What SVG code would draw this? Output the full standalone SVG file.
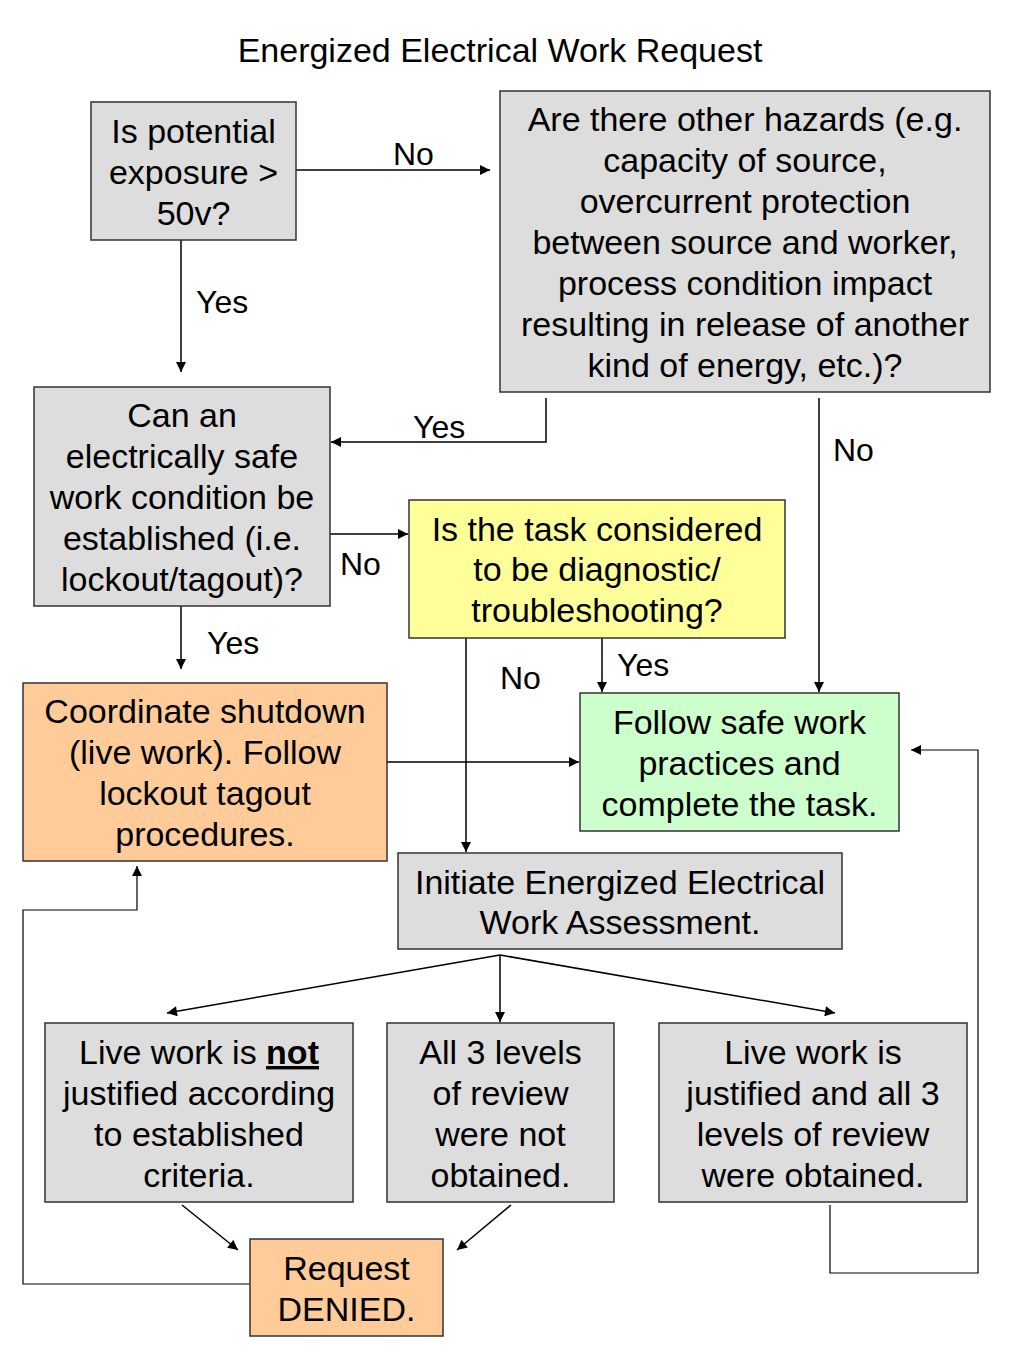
<svg xmlns="http://www.w3.org/2000/svg" width="1024" height="1365" viewBox="0 0 1024 1365">
<defs>
<style>
text{font-family:"Liberation Sans",Arial,sans-serif;fill:#000}
.t{font-size:34px;text-anchor:middle}
.lb{font-size:32px}
.box{stroke:#333;stroke-width:1.5}
.g{fill:#dddddd}.y{fill:#ffff99}.o{fill:#ffcc99}.gr{fill:#ccffcc}
.c{fill:none;stroke:#000;stroke-width:1.5}
.thin{fill:none;stroke:#000;stroke-width:1.2}
</style>
<marker id="ah" viewBox="0 0 10 10" refX="10" refY="5" markerWidth="11" markerHeight="10" markerUnits="userSpaceOnUse" orient="auto"><path d="M0,0 L10,5 L0,10 z" fill="#000"/></marker>
</defs>
<rect width="1024" height="1365" fill="#fff"/>
<text x="500" y="62" style="font-size:34px;text-anchor:middle">Energized Electrical Work Request</text>

<g id="connectors">
<line class="c" x1="296" y1="170" x2="490" y2="170" marker-end="url(#ah)"/>
<text class="lb" x="393" y="165">No</text>
<line class="c" x1="181" y1="240" x2="181" y2="372" marker-end="url(#ah)"/>
<text class="lb" x="196" y="313">Yes</text>
<polyline class="c" points="546,398 546,442 331,442" marker-end="url(#ah)"/>
<text class="lb" x="413" y="438">Yes</text>
<line class="c" x1="819" y1="398" x2="819" y2="692" marker-end="url(#ah)"/>
<text class="lb" x="833" y="461">No</text>
<line class="c" x1="330" y1="534" x2="408" y2="534" marker-end="url(#ah)"/>
<text class="lb" x="340" y="575">No</text>
<line class="c" x1="181" y1="606" x2="181" y2="669" marker-end="url(#ah)"/>
<text class="lb" x="207" y="654">Yes</text>
<line class="c" x1="466" y1="638" x2="466" y2="852" marker-end="url(#ah)"/>
<text class="lb" x="500" y="689">No</text>
<line class="c" x1="602" y1="638" x2="602" y2="692" marker-end="url(#ah)"/>
<text class="lb" x="617" y="676">Yes</text>
<line class="c" x1="387" y1="762" x2="579" y2="762" marker-end="url(#ah)"/>
<line class="c" x1="500" y1="955" x2="167" y2="1013" marker-end="url(#ah)"/>
<line class="c" x1="500" y1="955" x2="500" y2="1022" marker-end="url(#ah)"/>
<line class="c" x1="500" y1="955" x2="835" y2="1013" marker-end="url(#ah)"/>
<line class="c" x1="182" y1="1205" x2="238" y2="1250" marker-end="url(#ah)"/>
<line class="c" x1="511" y1="1205" x2="457" y2="1250" marker-end="url(#ah)"/>
<polyline class="thin" points="830,1205 830,1273 978,1273 978,750 911,750" marker-end="url(#ah)"/>
<polyline class="thin" points="250,1284 23,1284 23,910 137,910 137,866" marker-end="url(#ah)"/>
</g>

<g id="n1"><rect class="box g" x="91" y="102" width="205" height="138"/>
<text class="t" x="193.5" y="143">Is potential</text><text class="t" x="193.5" y="184">exposure &gt;</text><text class="t" x="193.5" y="225">50v?</text></g>

<g id="n2"><rect class="box g" x="500" y="91" width="490" height="301"/>
<text class="t" x="745" y="131">Are there other hazards (e.g.</text>
<text class="t" x="745" y="172">capacity of source,</text>
<text class="t" x="745" y="213">overcurrent protection</text>
<text class="t" x="745" y="254">between source and worker,</text>
<text class="t" x="745" y="295">process condition impact</text>
<text class="t" x="745" y="336">resulting in release of another</text>
<text class="t" x="745" y="377">kind of energy, etc.)?</text></g>

<g id="n3"><rect class="box g" x="34" y="387" width="296" height="219"/>
<text class="t" x="182" y="427">Can an</text>
<text class="t" x="182" y="468">electrically safe</text>
<text class="t" x="182" y="509">work condition be</text>
<text class="t" x="182" y="550">established (i.e.</text>
<text class="t" x="182" y="591">lockout/tagout)?</text></g>

<g id="n4"><rect class="box y" x="409" y="500" width="376" height="138"/>
<text class="t" x="597" y="541">Is the task considered</text>
<text class="t" x="597" y="581">to be diagnostic/</text>
<text class="t" x="597" y="622">troubleshooting?</text></g>

<g id="n5"><rect class="box o" x="23" y="683" width="364" height="178"/>
<text class="t" x="205" y="723">Coordinate shutdown</text>
<text class="t" x="205" y="764">(live work). Follow</text>
<text class="t" x="205" y="805">lockout tagout</text>
<text class="t" x="205" y="846">procedures.</text></g>

<g id="n6"><rect class="box gr" x="580" y="693" width="319" height="138"/>
<text class="t" x="739.5" y="734">Follow safe work</text>
<text class="t" x="739.5" y="775">practices and</text>
<text class="t" x="739.5" y="816">complete the task.</text></g>

<g id="n7"><rect class="box g" x="398" y="853" width="444" height="96"/>
<text class="t" x="620" y="894">Initiate Energized Electrical</text>
<text class="t" x="620" y="934">Work Assessment.</text></g>

<g id="n8"><rect class="box g" x="45" y="1023" width="308" height="179"/>
<text class="t" x="199" y="1064">Live work is <tspan font-weight="bold" text-decoration="underline">not</tspan></text>
<text class="t" x="199" y="1105">justified according</text>
<text class="t" x="199" y="1146">to established</text>
<text class="t" x="199" y="1187">criteria.</text></g>

<g id="n9"><rect class="box g" x="387" y="1023" width="227" height="179"/>
<text class="t" x="500.5" y="1064">All 3 levels</text>
<text class="t" x="500.5" y="1105">of review</text>
<text class="t" x="500.5" y="1146">were not</text>
<text class="t" x="500.5" y="1187">obtained.</text></g>

<g id="n10"><rect class="box g" x="659" y="1023" width="308" height="179"/>
<text class="t" x="813" y="1064">Live work is</text>
<text class="t" x="813" y="1105">justified and all 3</text>
<text class="t" x="813" y="1146">levels of review</text>
<text class="t" x="813" y="1187">were obtained.</text></g>

<g id="n11"><rect class="box o" x="250" y="1239" width="193" height="97"/>
<text class="t" x="346.5" y="1280">Request</text>
<text class="t" x="346.5" y="1321">DENIED.</text></g>
</svg>
